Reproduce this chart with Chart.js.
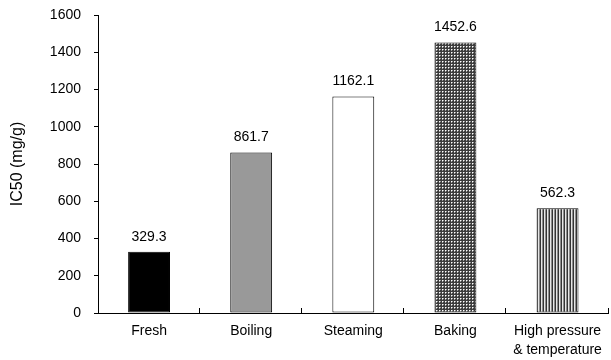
<!DOCTYPE html>
<html>
<head>
<meta charset="utf-8">
<script src="https://cdn.jsdelivr.net/npm/chart.js@4"></script>
<style>
  html, body { margin: 0; padding: 0; background: #fff; }
  #wrap { width: 611px; height: 360px; }
</style>
</head>
<body>
<div id="wrap"><canvas id="chart"></canvas></div>
<script>
  const categories = ['Fresh', 'Boiling', 'Steaming', 'Baking', ['High pressure', '& temperature']];
  const ic50 = [329.3, 861.7, 1162.1, 1452.6, 562.3];
  const valueLabels = ['329.3', '861.7', '1162.1', '1452.6', '562.3'];
  const yTicks = [0, 200, 400, 600, 800, 1000, 1200, 1400, 1600];

  const font = 'Liberation Sans, Arial, sans-serif';

  // small tiles for the hatched fills
  function makePattern(w, h, draw) {
    const c = document.createElement('canvas');
    c.width = w; c.height = h;
    const g = c.getContext('2d');
    draw(g);
    return g.createPattern(c, 'repeat');
  }

  const dotted = makePattern(3, 3, g => {
    g.fillStyle = '#3c3c3c';
    g.fillRect(0, 0, 3, 3);
    g.fillStyle = '#ffffff';
    g.fillRect(1, 1, 1, 1);
    g.fillStyle = '#a0a0a0';
    g.fillRect(2, 1, 1, 1);
    g.fillRect(1, 2, 1, 1);
  });

  const striped = makePattern(3, 1, g => {
    g.fillStyle = '#333333'; g.fillRect(0, 0, 1, 1);
    g.fillStyle = '#e6e6e6'; g.fillRect(1, 0, 1, 1);
    g.fillStyle = '#8c8c8c'; g.fillRect(2, 0, 1, 1);
  });

  const fills = ['#000000', '#999999', '#ffffff', dotted, striped];

  // value text above every bar
  const valueText = {
    id: 'valueText',
    afterDatasetsDraw(chart) {
      const ctx = chart.ctx;
      const meta = chart.getDatasetMeta(0);
      ctx.save();
      ctx.font = '14px ' + font;
      ctx.fillStyle = '#000';
      ctx.textAlign = 'center';
      ctx.textBaseline = 'bottom';
      meta.data.forEach((bar, i) => {
        ctx.fillText(valueLabels[i], bar.x, bar.y - 8);
      });
      ctx.restore();
    }
  };

  // short tick marks pointing up from the x axis, at category edges
  const innerTicks = {
    id: 'innerTicks',
    afterDraw(chart) {
      const ctx = chart.ctx;
      const area = chart.chartArea;
      const n = categories.length;
      const step = (area.right - area.left) / n;
      ctx.save();
      ctx.strokeStyle = '#000';
      ctx.lineWidth = 1;
      ctx.beginPath();
      for (let i = 1; i <= n; i++) {
        const x = Math.round(area.left + i * step) - 0.5;
        ctx.moveTo(x, area.bottom);
        ctx.lineTo(x, area.bottom - 5);
      }
      ctx.stroke();
      ctx.restore();
    }
  };

  new Chart(
    document.getElementById('chart'),
    {
      type: 'bar',
      data: {
        labels: categories,
        datasets: [{
          data: ic50,
          backgroundColor: fills,
          borderColor: '#000',
          borderWidth: 1,
          borderSkipped: false,
          categoryPercentage: 1,
          barPercentage: 0.41
        }]
      },
      options: {
        responsive: true,
        maintainAspectRatio: false,
        animation: false,
        layout: {
          padding: { left: 0, right: 1, top: 15, bottom: 0 }
        },
        plugins: {
          legend: { display: false },
          tooltip: { enabled: false }
        },
        scales: {
          x: {
            grid: { drawOnChartArea: false, drawTicks: false },
            border: { color: '#000', width: 1 },
            ticks: {
              color: '#000',
              padding: 9,
              maxRotation: 0,
              font: { family: font, size: 14, lineHeight: 1.35 }
            },
            afterFit: s => { s.height = 47; }
          },
          y: {
            min: 0,
            max: 1600,
            afterBuildTicks: s => { s.ticks = yTicks.map(v => ({ value: v })); },
            grid: { drawOnChartArea: false, tickLength: 4, color: '#000' },
            border: { color: '#000', width: 1 },
            ticks: {
              color: '#000',
              padding: 13,
              font: { family: font, size: 14 },
              callback: v => String(v)
            },
            title: {
              display: true,
              text: 'IC50 (mg/g)',
              color: '#000',
              padding: { top: 8, bottom: 0 },
              font: { family: font, size: 16 }
            },
            afterFit: s => {
              s.width = 98;
              s.paddingTop = 0;
              s.paddingBottom = 0;
            }
          }
        }
      },
      plugins: [valueText, innerTicks]
    }
  );
</script>
</body>
</html>
